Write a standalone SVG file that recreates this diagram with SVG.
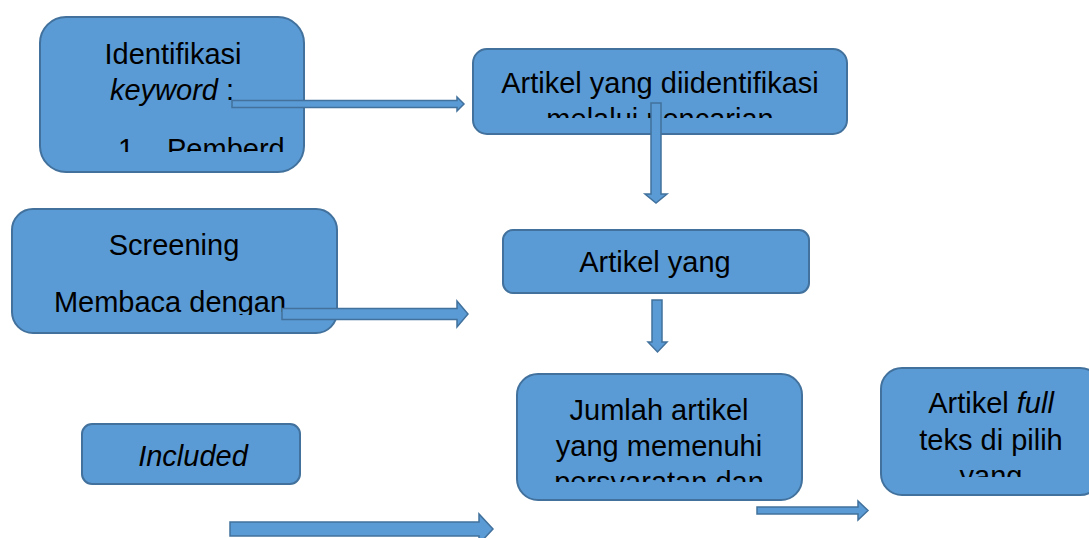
<svg xmlns="http://www.w3.org/2000/svg" width="1089" height="538" viewBox="0 0 1089 538">
  <style>
    .box { fill: #5B9BD5; stroke: #41719C; stroke-width: 2; }
    .arr { fill: #5B9BD5; stroke: #41719C; stroke-width: 1.5; stroke-linejoin: miter; }
    .t { font-family: "Liberation Sans", Arial, sans-serif; font-size: 29px; fill: #000; text-anchor: middle; }
    .it { font-style: italic; }
  </style>
  <defs>
    <clipPath id="c1"><rect x="40" y="17" width="264" height="135"/></clipPath>
    <clipPath id="c2"><rect x="473" y="49" width="374" height="69"/></clipPath>
    <clipPath id="c3"><rect x="12" y="209" width="325" height="106"/></clipPath>
    <clipPath id="c6"><rect x="517" y="374" width="285" height="108"/></clipPath>
    <clipPath id="c7"><rect x="881" y="368" width="220" height="109"/></clipPath>
  </defs>

  <g id="node-identifikasi">
    <rect class="box" x="40" y="17" width="264" height="155" rx="26"/>
    <g clip-path="url(#c1)">
      <text class="t" x="173" y="64">Identifikasi</text>
      <text class="t" x="172" y="100"><tspan class="it">keyword</tspan> :</text>
      <text class="t" x="118" y="159" style="text-anchor:start">1.</text>
      <text class="t" x="167" y="159" style="text-anchor:start">Pemberd</text>
    </g>
  </g>

  <g id="node-artikel-diidentifikasi">
    <rect class="box" x="473" y="49" width="374" height="85" rx="14"/>
    <g clip-path="url(#c2)">
      <text class="t" x="660" y="93">Artikel yang diidentifikasi</text>
      <text class="t" x="660" y="129">melalui pencarian</text>
    </g>
  </g>

  <g id="node-screening">
    <rect class="box" x="12" y="209" width="325" height="124" rx="21"/>
    <g clip-path="url(#c3)">
      <text class="t" x="174" y="255">Screening</text>
      <text class="t" x="170" y="312">Membaca dengan</text>
    </g>
  </g>

  <g id="node-artikel-yang">
    <rect class="box" x="503" y="230" width="306" height="63" rx="10"/>
    <text class="t" x="655" y="272">Artikel yang</text>
  </g>

  <g id="node-included">
    <rect class="box" x="82" y="424" width="218" height="60" rx="10"/>
    <text class="t it" x="193" y="466">Included</text>
  </g>

  <g id="node-jumlah">
    <rect class="box" x="517" y="374" width="285" height="126" rx="21"/>
    <g clip-path="url(#c6)">
      <text class="t" x="659" y="420">Jumlah artikel</text>
      <text class="t" x="659" y="456">yang memenuhi</text>
      <text class="t" x="659" y="492">persyaratan dan</text>
    </g>
  </g>

  <g id="node-full">
    <rect class="box" x="881" y="368" width="220" height="127" rx="21"/>
    <g clip-path="url(#c7)">
      <text class="t" x="991" y="413">Artikel <tspan class="it">full</tspan></text>
      <text class="t" x="991" y="450">teks di pilih</text>
      <text class="t" x="991" y="486">yang</text>
    </g>
  </g>

  <g id="connectors">
    <polygon class="arr" points="232,100.5 457,100.5 457,97 464,104 457,111 457,107.5 232,107.5"/>
    <polygon class="arr" points="651,103 661,103 661,194 667,194 656,203 645,194 651,194"/>
    <polygon class="arr" points="282,308.5 457,308.5 457,301 468,314 457,327 457,319.5 282,319.5"/>
    <polygon class="arr" points="652,300 662,300 662,342 667,342 657.5,352 648,342 652,342"/>
    <polygon class="arr" points="230,522 479,522 479,514 493,529 479,544 479,536 230,536"/>
    <polygon class="arr" points="757,507 858,507 858,501 868,510.5 858,520 858,514 757,514"/>
  </g>
</svg>
